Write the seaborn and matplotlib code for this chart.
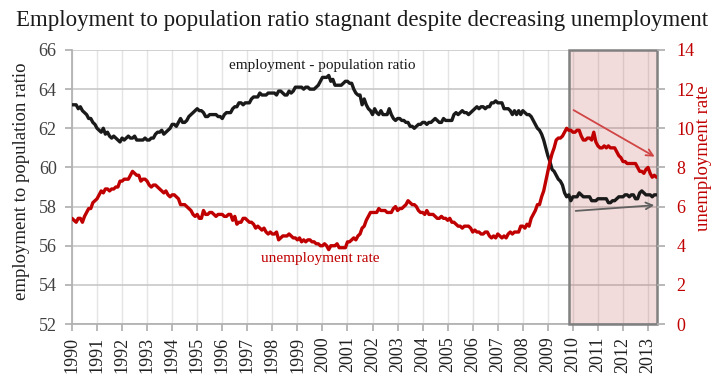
import numpy as np
import pandas as pd
import matplotlib
matplotlib.use("Agg")
import matplotlib.pyplot as plt
import seaborn as sns

# monthly values, Jan 1990 - May 2013
emp_ratio = [
    63.2, 63.2, 63.2, 63.0, 63.1, 62.9, 62.8, 62.7, 62.5, 62.5, 62.3, 62.2,  # 1990
    62.0, 61.9, 61.8, 62.0, 61.7, 61.8, 61.6, 61.5, 61.6, 61.5, 61.4, 61.3,  # 1991
    61.5, 61.4, 61.5, 61.6, 61.5, 61.5, 61.6, 61.4, 61.4, 61.4, 61.4, 61.5,  # 1992
    61.4, 61.4, 61.5, 61.5, 61.7, 61.8, 61.8, 61.9, 61.7, 61.8, 61.9, 62.0,  # 1993
    62.2, 62.2, 62.1, 62.3, 62.5, 62.3, 62.3, 62.4, 62.6, 62.7, 62.8, 62.9,  # 1994
    63.0, 62.9, 62.9, 62.8, 62.6, 62.6, 62.7, 62.7, 62.7, 62.7, 62.6, 62.6,  # 1995
    62.5, 62.7, 62.8, 62.8, 62.8, 63.0, 63.1, 63.1, 63.3, 63.3, 63.2, 63.3,  # 1996
    63.3, 63.3, 63.5, 63.6, 63.6, 63.6, 63.8, 63.7, 63.7, 63.7, 63.8, 63.8,  # 1997
    63.8, 63.8, 63.7, 63.9, 63.9, 63.8, 63.7, 63.7, 63.9, 63.8, 63.9, 64.1,  # 1998
    64.1, 64.1, 64.1, 64.0, 64.1, 64.1, 64.0, 64.0, 64.0, 64.1, 64.2, 64.4,  # 1999
    64.6, 64.6, 64.6, 64.7, 64.4, 64.5, 64.2, 64.2, 64.2, 64.2, 64.3, 64.4,  # 2000
    64.4, 64.3, 64.3, 64.0, 63.8, 63.7, 63.7, 63.2, 63.5, 63.2, 63.0, 62.9,  # 2001
    62.7, 63.0, 62.8, 62.7, 62.9, 62.7, 62.7, 62.7, 63.0, 62.7, 62.5, 62.4,  # 2002
    62.5, 62.5, 62.4, 62.4, 62.3, 62.3, 62.1, 62.1, 62.0, 62.1, 62.2, 62.2,  # 2003
    62.3, 62.3, 62.2, 62.3, 62.3, 62.4, 62.5, 62.4, 62.3, 62.3, 62.5, 62.4,  # 2004
    62.4, 62.4, 62.4, 62.7, 62.8, 62.7, 62.8, 62.9, 62.8, 62.8, 62.7, 62.8,  # 2005
    62.9, 63.0, 63.1, 63.0, 63.1, 63.1, 63.0, 63.1, 63.1, 63.3, 63.3, 63.4,  # 2006
    63.3, 63.3, 63.3, 63.0, 63.0, 63.0, 62.9, 62.7, 62.9, 62.7, 62.9, 62.7,  # 2007
    62.9, 62.8, 62.7, 62.7, 62.6, 62.4, 62.2, 62.0, 61.9, 61.7, 61.4, 61.0,  # 2008
    60.6, 60.3, 59.9, 59.8, 59.6, 59.4, 59.3, 59.1, 58.7, 58.5, 58.6, 58.3,  # 2009
    58.5, 58.5, 58.5, 58.7, 58.6, 58.5, 58.5, 58.5, 58.5, 58.3, 58.3, 58.3,  # 2010
    58.4, 58.4, 58.4, 58.4, 58.4, 58.2, 58.2, 58.3, 58.3, 58.4, 58.5, 58.5,  # 2011
    58.5, 58.6, 58.6, 58.5, 58.6, 58.6, 58.4, 58.4, 58.7, 58.8, 58.7, 58.6,  # 2012
    58.6, 58.6, 58.5, 58.6, 58.6,                                            # 2013
]

unemp_rate = [
    5.4, 5.3, 5.2, 5.4, 5.4, 5.2, 5.5, 5.7, 5.9, 5.9, 6.2, 6.3,  # 1990
    6.4, 6.6, 6.8, 6.7, 6.9, 6.9, 6.8, 6.9, 6.9, 7.0, 7.0, 7.3,  # 1991
    7.3, 7.4, 7.4, 7.4, 7.6, 7.8, 7.7, 7.6, 7.6, 7.3, 7.4, 7.4,  # 1992
    7.3, 7.1, 7.0, 7.1, 7.1, 7.0, 6.9, 6.8, 6.7, 6.8, 6.6, 6.5,  # 1993
    6.6, 6.6, 6.5, 6.4, 6.1, 6.1, 6.1, 6.0, 5.9, 5.8, 5.6, 5.5,  # 1994
    5.6, 5.4, 5.4, 5.8, 5.6, 5.6, 5.7, 5.7, 5.6, 5.5, 5.6, 5.6,  # 1995
    5.6, 5.5, 5.5, 5.6, 5.6, 5.3, 5.5, 5.1, 5.2, 5.2, 5.4, 5.4,  # 1996
    5.3, 5.2, 5.2, 5.1, 4.9, 5.0, 4.9, 4.8, 4.9, 4.7, 4.6, 4.7,  # 1997
    4.6, 4.6, 4.7, 4.3, 4.4, 4.5, 4.5, 4.5, 4.6, 4.5, 4.4, 4.4,  # 1998
    4.3, 4.4, 4.2, 4.3, 4.2, 4.3, 4.3, 4.2, 4.2, 4.1, 4.1, 4.0,  # 1999
    4.0, 4.1, 4.0, 3.8, 4.0, 4.0, 4.0, 4.1, 3.9, 3.9, 3.9, 3.9,  # 2000
    4.2, 4.2, 4.3, 4.4, 4.3, 4.5, 4.6, 4.9, 5.0, 5.3, 5.5, 5.7,  # 2001
    5.7, 5.7, 5.7, 5.9, 5.8, 5.8, 5.8, 5.7, 5.7, 5.7, 5.9, 6.0,  # 2002
    5.8, 5.9, 5.9, 6.0, 6.1, 6.3, 6.2, 6.1, 6.1, 6.0, 5.8, 5.7,  # 2003
    5.7, 5.6, 5.8, 5.6, 5.6, 5.6, 5.5, 5.4, 5.4, 5.5, 5.4, 5.4,  # 2004
    5.3, 5.4, 5.2, 5.2, 5.1, 5.0, 5.0, 4.9, 5.0, 5.0, 5.0, 4.9,  # 2005
    4.7, 4.8, 4.7, 4.7, 4.6, 4.6, 4.7, 4.7, 4.5, 4.4, 4.5, 4.4,  # 2006
    4.6, 4.5, 4.4, 4.5, 4.4, 4.6, 4.7, 4.6, 4.7, 4.7, 4.7, 5.0,  # 2007
    5.0, 4.9, 5.1, 5.0, 5.4, 5.6, 5.8, 6.1, 6.1, 6.5, 6.8, 7.3,  # 2008
    7.8, 8.3, 8.7, 9.0, 9.4, 9.5, 9.5, 9.6, 9.8, 10.0, 9.9, 9.9,  # 2009
    9.8, 9.8, 9.9, 9.9, 9.6, 9.4, 9.4, 9.5, 9.5, 9.4, 9.8, 9.3,  # 2010
    9.1, 9.0, 9.0, 9.1, 9.0, 9.1, 9.0, 9.0, 9.0, 8.8, 8.6, 8.5,  # 2011
    8.3, 8.3, 8.2, 8.2, 8.2, 8.2, 8.2, 8.0, 7.8, 7.8, 7.7, 7.9,  # 2012
    8.0, 7.7, 7.5, 7.6, 7.5,                                     # 2013
]

year_ticks = list(range(1990, 2014))
start_year = 1990

df = pd.DataFrame({"emp": emp_ratio, "unemp": unemp_rate})
df["t"] = start_year + np.arange(len(df)) / 12.0

sns.set_theme(style="white")
plt.rcParams["font.family"] = ["Liberation Serif", "DejaVu Serif"]

RED = "#c00000"
GRID_H = "#c8c8c8"
GRID_V = "#e4e4e4"

fig = plt.figure(figsize=(7.25, 3.89), dpi=100)
ax = fig.add_axes([0.0993, 0.167, 0.807, 0.7045])
ax2 = ax.twinx()

# shaded recovery period
ax.axvspan(2009.85, 2013.36, facecolor="#c0504d", alpha=0.2, zorder=0.6)
ax.axvspan(2009.85, 2013.36, facecolor="none", edgecolor="#808080",
           lw=1.8, zorder=3, clip_on=False)

sns.lineplot(data=df, x="t", y="emp", ax=ax, color="#1a1a1a", lw=2.4, zorder=4)
sns.lineplot(data=df, x="t", y="unemp", ax=ax2, color=RED, lw=2.4, zorder=4)

ax.set_xlim(1990, 2013.36)
ax.set_ylim(52, 66)
ax2.set_ylim(0, 14)
ax.set_yticks(range(52, 67, 2))
ax2.set_yticks(range(0, 15, 2))
ax.set_xticks(year_ticks)
ax.set_xticklabels([str(y) for y in year_ticks], rotation=90, fontsize=13)

ax.set_axisbelow(True)
ax.grid(True, axis="y", color=GRID_H, lw=1.2)
ax.grid(True, axis="x", color=GRID_V, lw=1.0)
ax2.grid(False)

for s in ["top", "right"]:
    ax.spines[s].set_visible(False)
for s in ax2.spines:
    ax2.spines[s].set_visible(False)
ax.spines["left"].set_color("#b0b0b0")
ax.spines["bottom"].set_color("#b0b0b0")

ax.tick_params(axis="both", length=5, color="#b0b0b0", direction="out",
               left=True, bottom=True)
ax.tick_params(axis="y", labelsize=13, labelcolor="#404040", pad=6)
ax.tick_params(axis="x", labelcolor="#202020", pad=4)
ax2.tick_params(axis="y", length=6, color="#b0b0b0", right=True,
                labelsize=13, labelcolor=RED, pad=8)

ax.set_xlabel("")
ax.set_ylabel("employment to population ratio", fontsize=13.5, color="#202020")
ax.yaxis.set_label_coords(-0.072, 0.52)
ax2.set_ylabel("unemployment rate", fontsize=13.5, color=RED)
ax2.yaxis.set_label_coords(1.065, 0.606)

ax.text(2000.0, 65.23, "employment - population ratio", ha="center", va="center",
        fontsize=11, color="#1a1a1a")
ax2.text(1999.9, 3.37, "unemployment rate", ha="center", va="center",
         fontsize=11, color=RED)

# trend arrows
ax2.annotate("", xy=(2013.36, 8.48), xytext=(2009.93, 11.0),
             arrowprops=dict(arrowstyle="->", color="#d04545", lw=1.3), zorder=5)
ax.annotate("", xy=(2013.36, 58.08), xytext=(2010.0, 57.77),
            arrowprops=dict(arrowstyle="->", color="#606060", lw=1.3), zorder=5)

fig.suptitle("Employment to population ratio stagnant despite decreasing unemployment",
             x=0.5, y=0.975, fontsize=16.5, fontweight="normal", color="#1a1a1a")

fig.savefig("out.png", dpi=100)
